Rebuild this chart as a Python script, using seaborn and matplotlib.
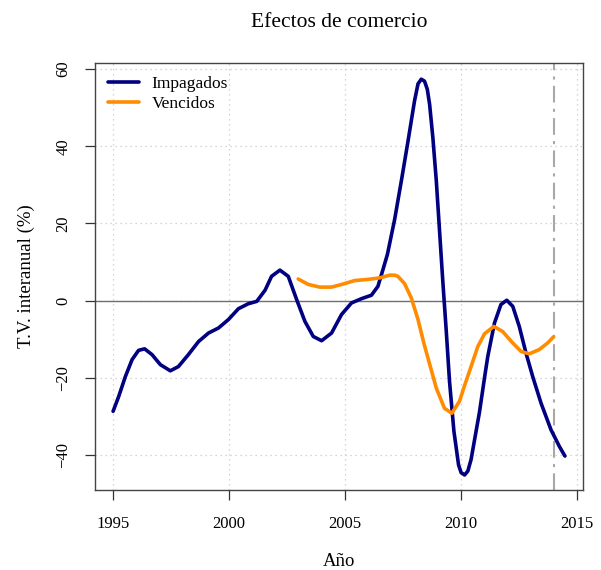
import numpy as np
import pandas as pd
import matplotlib
matplotlib.use("Agg")
import matplotlib.pyplot as plt
import seaborn as sns

# Tasa de variación interanual de efectos de comercio (%)
anio_impagados = [1995.00, 1995.24, 1995.53, 1995.82, 1996.10, 1996.36, 1996.68, 1997.04,
                  1997.47, 1997.82, 1998.25, 1998.69, 1999.12, 1999.55, 1999.98, 2000.41,
                  2000.84, 2001.20, 2001.56, 2001.84, 2002.20, 2002.56, 2002.92, 2003.28,
                  2003.64, 2004.00, 2004.43, 2004.86, 2005.29, 2005.72, 2006.15, 2006.43,
                  2006.65, 2006.84, 2007.15, 2007.44, 2007.73, 2008.01, 2008.16, 2008.30,
                  2008.44, 2008.56, 2008.66, 2008.80, 2008.95, 2009.09, 2009.23, 2009.38,
                  2009.52, 2009.71, 2009.91, 2010.02, 2010.17, 2010.31, 2010.45, 2010.60,
                  2010.81, 2011.03, 2011.17, 2011.46, 2011.74, 2011.99, 2012.25, 2012.53,
                  2012.82, 2013.11, 2013.47, 2013.90, 2014.26, 2014.50]
tv_impagados = [-28.7, -24.9, -19.7, -15.3, -12.9, -12.5, -14.0, -16.6,
                -18.2, -17.1, -14.0, -10.6, -8.4, -7.1, -4.9, -2.1,
                -0.8, -0.2, 2.7, 6.3, 7.9, 6.3, 0.3, -5.4,
                -9.3, -10.4, -8.4, -3.6, -0.6, 0.5, 1.4, 3.7,
                8.1, 12.0, 21.0, 31.0, 41.4, 51.8, 56.2, 57.4,
                56.9, 54.8, 50.9, 42.3, 31.0, 18.0, 5.0, -8.0,
                -21.0, -33.9, -42.6, -44.6, -45.2, -44.2, -41.2, -36.1,
                -29.0, -20.0, -14.5, -5.8, -1.0, 0.1, -1.5, -6.7,
                -13.6, -19.7, -26.6, -33.5, -37.8, -40.3]

anio_vencidos = [2002.99, 2003.42, 2003.92, 2004.43, 2004.93, 2005.43, 2006.00, 2006.51,
                 2006.94, 2007.15, 2007.29, 2007.58, 2007.87, 2008.16, 2008.41, 2008.59,
                 2008.95, 2009.30, 2009.62, 2009.95, 2010.17, 2010.45, 2010.74, 2011.03,
                 2011.43, 2011.81, 2012.25, 2012.61, 2012.96, 2013.39, 2013.75, 2014.01]
tv_vencidos = [5.6, 4.2, 3.5, 3.5, 4.3, 5.2, 5.5, 5.9,
               6.6, 6.6, 6.3, 4.4, 0.7, -4.9, -11.0, -14.9,
               -22.7, -27.9, -29.2, -26.1, -22.0, -17.1, -11.9, -8.6,
               -6.7, -8.0, -11.0, -13.2, -13.8, -12.7, -11.0, -9.4]

series = ["Impagados", "Vencidos"]
colores = ["#000080", "#FF8C00"]
anio_corte = 2014.04
x_ticks = [1995, 2000, 2005, 2010, 2015]
y_ticks = [-40, -20, 0, 20, 40, 60]

df = pd.concat([
    pd.DataFrame({"Año": anio_impagados, "tv": tv_impagados, "serie": series[0]}),
    pd.DataFrame({"Año": anio_vencidos, "tv": tv_vencidos, "serie": series[1]}),
], ignore_index=True)

plt.rcParams["font.family"] = ["Liberation Serif", "DejaVu Serif"]

fig = plt.figure(figsize=(6.01, 5.70), dpi=100)
ax = fig.add_axes([95 / 601, 1 - 490 / 570, 488 / 601, 427 / 570])

# rejilla punteada, línea del cero y corte vertical
for xv in x_ticks:
    ax.axvline(xv, color="#c8c8c8", lw=0.9, ls=(0, (1, 3)), zorder=0)
for yv in y_ticks:
    ax.axhline(yv, color="#c8c8c8", lw=0.9, ls=(0, (1, 3)), zorder=0)
ax.axhline(0, color="#707070", lw=1.0, zorder=1)
ax.axvline(anio_corte, color="#a8a8a8", lw=1.5, ls=(0, (8, 3, 1.5, 3)), zorder=1)

sns.lineplot(data=df, x="Año", y="tv", hue="serie", palette=colores,
             estimator=None, sort=False, lw=2.6, ax=ax, zorder=3)
for line in ax.get_lines():
    line.set_solid_joinstyle("round")
    line.set_solid_capstyle("round")

ax.set_xlim(1994.22, 2015.28)
ax.set_ylim(-49.1, 61.6)
ax.set_xticks(x_ticks)
ax.set_yticks(y_ticks)
ax.tick_params(axis="both", direction="out", length=7, width=0.9,
               labelsize=12, color="#333333")
ax.tick_params(axis="x", pad=12)
ax.tick_params(axis="y", pad=10)
for lab in ax.get_yticklabels():
    lab.set_rotation(90)
    lab.set_va("center")
for sp in ax.spines.values():
    sp.set_color("#444444")
    sp.set_linewidth(1.0)

ax.set_xlabel("Año", fontsize=13.5, labelpad=15)
ax.set_ylabel("T.V. interanual (%)", fontsize=13.5, labelpad=15)
ax.set_title("Efectos de comercio", fontsize=15.5, pad=26)

leg = ax.legend(loc="upper left", frameon=False, fontsize=12.5, handlelength=1.8,
                borderaxespad=0.35, labelspacing=0.2, handletextpad=0.7)
for line in leg.get_lines():
    line.set_linewidth(2.6)

fig.savefig("out.png", dpi=100)
